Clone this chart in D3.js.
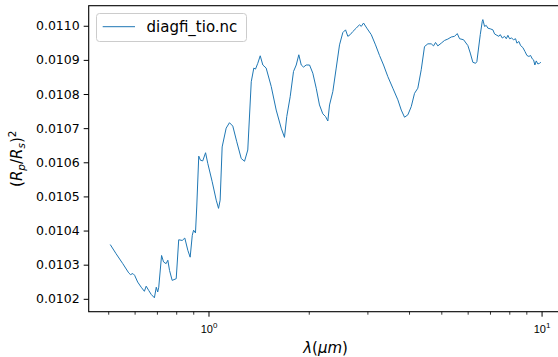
<!DOCTYPE html>
<html>
<head>
<meta charset="utf-8">
<script src="https://cdn.jsdelivr.net/npm/d3@7"></script>
<style>
  html, body { margin: 0; padding: 0; background: #fff; }
  svg { display: block; font-family: "DejaVu Sans", sans-serif; }
</style>
</head>
<body>
<script>
// Transmission spectrum: wavelength (micron) and transit depth (Rp/Rs)^2
const wavelength = [
  0.507,0.528,0.553,0.576,0.583,0.593,0.600,0.613,0.628,0.642,0.650,0.662,0.673,0.688,0.697,0.704,0.709,0.723,0.733,0.746,
  0.755,0.764,0.778,0.800,0.814,0.834,0.849,0.867,0.881,0.894,0.902,0.914,0.922,0.935,0.946,0.961,0.980,0.995,1.026,1.055,
  1.072,1.084,1.099,1.130,1.156,1.183,1.216,1.254,1.283,1.312,1.344,1.368,1.384,1.406,1.430,1.456,1.490,1.543,1.597,1.653,
  1.691,1.718,1.759,1.800,1.834,1.867,1.899,1.929,1.965,2.011,2.057,2.106,2.154,2.204,2.246,2.282,2.309,2.362,2.418,2.474,
  2.531,2.579,2.620,2.664,2.712,2.777,2.841,2.875,2.921,2.988,3.081,3.173,3.262,3.354,3.455,3.577,3.703,3.791,3.878,3.968,
  4.062,4.155,4.251,4.352,4.452,4.556,4.664,4.739,4.805,4.882,4.998,5.114,5.231,5.356,5.479,5.583,5.673,5.832,6.008,6.109,
  6.219,6.337,6.394,6.546,6.637,6.664,6.743,6.823,6.899,7.014,7.143,7.227,7.343,7.445,7.517,7.622,7.744,7.836,7.923,8.016,
  8.128,8.241,8.356,8.432,8.549,8.650,8.789,8.911,9.037,9.162,9.268,9.378,9.462,9.548,9.641,9.748,9.863,9.952
];
const transitDepth = [
  0.010359,0.010332,0.010303,0.010276,0.010271,0.010274,0.010269,0.010249,0.010234,0.010222,0.010237,0.010224,0.010213,0.010203,0.010234,0.010220,0.010234,0.010327,0.010308,0.010303,
  0.010313,0.010283,0.010254,0.010259,0.010373,0.010371,0.010378,0.010342,0.010322,0.010386,0.010401,0.010393,0.010469,0.010618,0.010606,0.010604,0.010628,0.010597,0.010543,0.010489,
  0.010465,0.010489,0.010645,0.010700,0.010716,0.010706,0.010660,0.010611,0.010603,0.010636,0.010836,0.010876,0.010873,0.010890,0.010912,0.010885,0.010876,0.010822,0.010753,0.010700,
  0.010673,0.010734,0.010792,0.010866,0.010885,0.010915,0.010885,0.010879,0.010885,0.010885,0.010861,0.010817,0.010768,0.010742,0.010734,0.010721,0.010768,0.010807,0.010876,0.010944,
  0.010980,0.010988,0.010969,0.010974,0.010983,0.010993,0.011003,0.010998,0.011008,0.010993,0.010974,0.010944,0.010913,0.010885,0.010851,0.010817,0.010783,0.010753,0.010732,0.010739,
  0.010763,0.010802,0.010817,0.010871,0.010939,0.010947,0.010947,0.010941,0.010951,0.010941,0.010949,0.010957,0.010961,0.010967,0.010969,0.010977,0.010962,0.010959,0.010942,0.010920,
  0.010893,0.010890,0.010895,0.010974,0.011013,0.011018,0.010998,0.011001,0.010993,0.010991,0.010988,0.010976,0.010972,0.010969,0.010974,0.010964,0.010969,0.010962,0.010972,0.010962,
  0.010964,0.010959,0.010962,0.010949,0.010954,0.010942,0.010936,0.010925,0.010913,0.010910,0.010913,0.010903,0.010900,0.010885,0.010897,0.010888,0.010890,0.010893
];
const seriesName = "diagfi_tio.nc";
const yTicks = [0.0102, 0.0103, 0.0104, 0.0105, 0.0106, 0.0107, 0.0108, 0.0109, 0.0110];
const xMajorTicks = [1, 10];
const xMajorLabels = ["0", "1"];   // exponents of 10
const xMinorTicks = [0.5, 0.6, 0.7, 0.8, 0.9, 2, 3, 4, 5, 6, 7, 8, 9];

const W = 558, H = 357;
const plot = { left: 88.7, top: 5.7, width: 473.7, height: 306 };
const color = "#1f77b4";

const svg = d3.select("body").append("svg").attr("width", W).attr("height", H);

// autoscale with 5% padding (log-space on x)
const lx = d3.extent(wavelength).map(Math.log10);
const px = (lx[1] - lx[0]) * 0.05;
const x = d3.scaleLog()
  .domain([Math.pow(10, lx[0] - px), Math.pow(10, lx[1] + px)])
  .range([plot.left, plot.left + plot.width]);
const ye = d3.extent(transitDepth);
const py = (ye[1] - ye[0]) * 0.05;
const y = d3.scaleLinear()
  .domain([ye[0] - py, ye[1] + py])
  .range([plot.top + plot.height, plot.top]);

const data = wavelength.map((w, i) => [w, transitDepth[i]]);

svg.append("defs").append("clipPath").attr("id", "plotclip")
  .append("rect").attr("x", plot.left).attr("y", plot.top)
  .attr("width", plot.width).attr("height", plot.height);

svg.append("path")
  .datum(data)
  .attr("clip-path", "url(#plotclip)")
  .attr("fill", "none")
  .attr("stroke", color)
  .attr("stroke-width", 1)
  .attr("stroke-linejoin", "round")
  .attr("d", d3.line().x(d => x(d[0])).y(d => y(d[1])));

// y axis
const yAxis = svg.append("g")
  .attr("transform", `translate(${plot.left},0)`)
  .call(d3.axisLeft(y).tickValues(yTicks).tickFormat(d3.format(".4f")).tickSize(5).tickPadding(4));
yAxis.select(".domain").remove();
yAxis.selectAll("line").attr("stroke", "#000").attr("stroke-width", 1);
yAxis.selectAll("text").attr("font-family", "DejaVu Sans").attr("font-size", 12.5).attr("fill", "#000");

// x axis: minor ticks
const xb = plot.top + plot.height;
const xMinor = svg.append("g")
  .attr("transform", `translate(0,${xb})`)
  .call(d3.axisBottom(x).tickValues(xMinorTicks).tickFormat("").tickSize(3));
xMinor.select(".domain").remove();
xMinor.selectAll("line").attr("stroke", "#000").attr("stroke-width", 0.8);

// x axis: major ticks with 10^n labels
const xMajor = svg.append("g")
  .attr("transform", `translate(0,${xb})`)
  .call(d3.axisBottom(x).tickValues(xMajorTicks).tickFormat("").tickSize(5));
xMajor.select(".domain").remove();
xMajor.selectAll("line").attr("stroke", "#000").attr("stroke-width", 1);
xMajor.selectAll(".tick").each(function(d, i) {
  const t = d3.select(this).append("text")
    .attr("y", 21)
    .attr("text-anchor", "middle")
    .attr("font-size", 11)
    .attr("fill", "#000");
  t.append("tspan").text("10");
  t.append("tspan").attr("dy", -5).attr("font-size", 8).text(xMajorLabels[i]);
});

// spines
const spine = svg.append("g").attr("stroke", "#000").attr("stroke-width", 1.1).attr("fill", "none");
spine.append("rect")
  .attr("x", plot.left).attr("y", plot.top)
  .attr("width", plot.width).attr("height", plot.height);

// axis labels
const xl = svg.append("text")
  .attr("x", plot.left + plot.width / 2).attr("y", 353)
  .attr("text-anchor", "middle").attr("font-size", 15).attr("fill", "#000");
xl.append("tspan").attr("font-style", "italic").text("λ");
xl.append("tspan").text("(");
xl.append("tspan").attr("font-style", "italic").text("μm");
xl.append("tspan").text(")");

const yl = svg.append("text")
  .attr("transform", `translate(21.5,${plot.top + plot.height / 2}) rotate(-90)`)
  .attr("text-anchor", "middle").attr("font-size", 15).attr("fill", "#000");
yl.append("tspan").text("(");
yl.append("tspan").attr("font-style", "italic").text("R");
yl.append("tspan").attr("font-style", "italic").attr("font-size", 10.5).attr("dy", 3).text("p");
yl.append("tspan").attr("dy", -3).text("/");
yl.append("tspan").attr("font-style", "italic").text("R");
yl.append("tspan").attr("font-style", "italic").attr("font-size", 10.5).attr("dy", 3).text("s");
yl.append("tspan").attr("dy", -3).text(")");
yl.append("tspan").attr("font-size", 10.5).attr("dy", -6).text("2");

// legend
const lg = svg.append("g");
lg.append("rect")
  .attr("x", 96.5).attr("y", 13.5).attr("width", 150).attr("height", 28).attr("rx", 3)
  .attr("fill", "#fff").attr("fill-opacity", 0.8)
  .attr("stroke", "#cccccc").attr("stroke-width", 1);
lg.append("line")
  .attr("x1", 102.7).attr("x2", 135).attr("y1", 26.7).attr("y2", 26.7)
  .attr("stroke", color).attr("stroke-width", 1);
lg.append("text")
  .attr("x", 146.5).attr("y", 32.3)
  .attr("font-size", 15).attr("fill", "#000")
  .text(seriesName);
</script>
</body>
</html>
